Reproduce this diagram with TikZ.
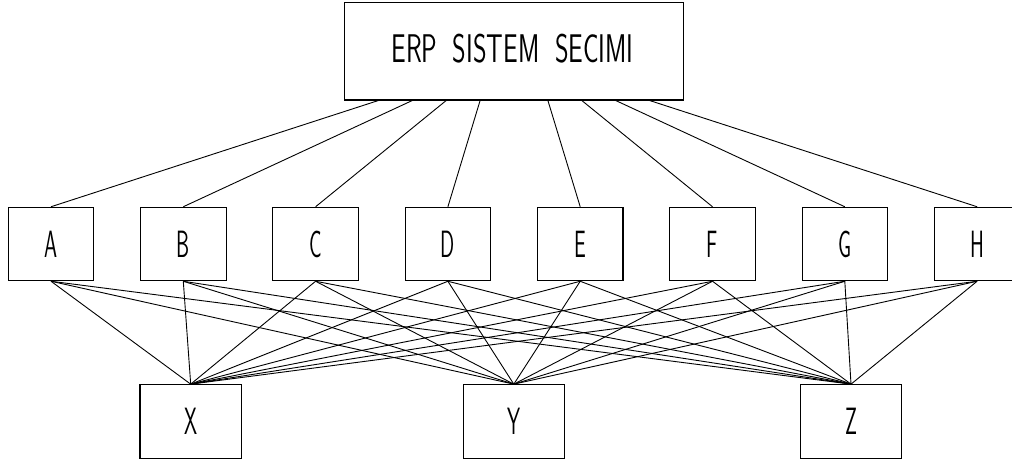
\documentclass[tikz,border=0pt]{standalone}
\usepackage{graphicx}
\begin{document}
\begin{tikzpicture}[x=1pt,y=-1pt,
  boxline/.style={draw=black,line width=1.1pt,inner sep=0pt},
  goalbox/.style={boxline,minimum width=338.6pt,minimum height=97.3pt},
  critbox/.style={boxline,minimum width=85.5pt,minimum height=73.4pt},
  altbox/.style={boxline,minimum width=101.5pt,minimum height=74pt},
  link/.style={draw=black,line width=0.9pt},
  lbl/.style={font=\sffamily\fontsize{38}{38}\selectfont}]
\useasboundingbox (0,0) rectangle (1012,461);
\begin{scope}
\clip (0,0) rectangle (1012,461);
% goal
\node[goalbox] (goal) at (514,51.3) {};
\node[lbl,font=\sffamily\fontsize{40}{40}\selectfont] (goaltxt) at (512.5,49)
  {\scalebox{0.65}[1]{ERP\hspace{0.6em}SISTEM\hspace{0.6em}SECIMI}};
% criteria
\foreach \n [count=\i from 0] in {A,B,C,D,E,F,G,H}{
  \node[critbox] (\n) at ({51+132.3*\i},244) {};
  \node[lbl] (\n t) at ({51+132.3*\i},244) {\scalebox{0.55}[1]{\n}};
}
% alternatives
\node[altbox] (X) at (190.7,421.7) {};
\node[lbl] (Xt) at (190.7,421.7) {\scalebox{0.55}[1]{X}};
\node[altbox] (Y) at (513.8,421.7) {};
\node[lbl] (Yt) at (513.8,421.7) {\scalebox{0.55}[1]{Y}};
\node[altbox] (Z) at (851,421.7) {};
\node[lbl] (Zt) at (851,421.7) {\scalebox{0.55}[1]{Z}};
% goal to criteria
\foreach \n/\k in {A/-4,B/-3,C/-2,D/-1,E/1,F/2,G/3,H/4}{
  \draw[link] ([xshift={33.9*\k}]goal.south) -- (\n.north);
}
% criteria to alternatives
\foreach \n in {A,B,C,D,E,F,G,H}{
  \foreach \a in {X,Y,Z}{
    \draw[link] (\n.south) -- (\a.north);
  }
}
\end{scope}
\end{tikzpicture}
\end{document}
